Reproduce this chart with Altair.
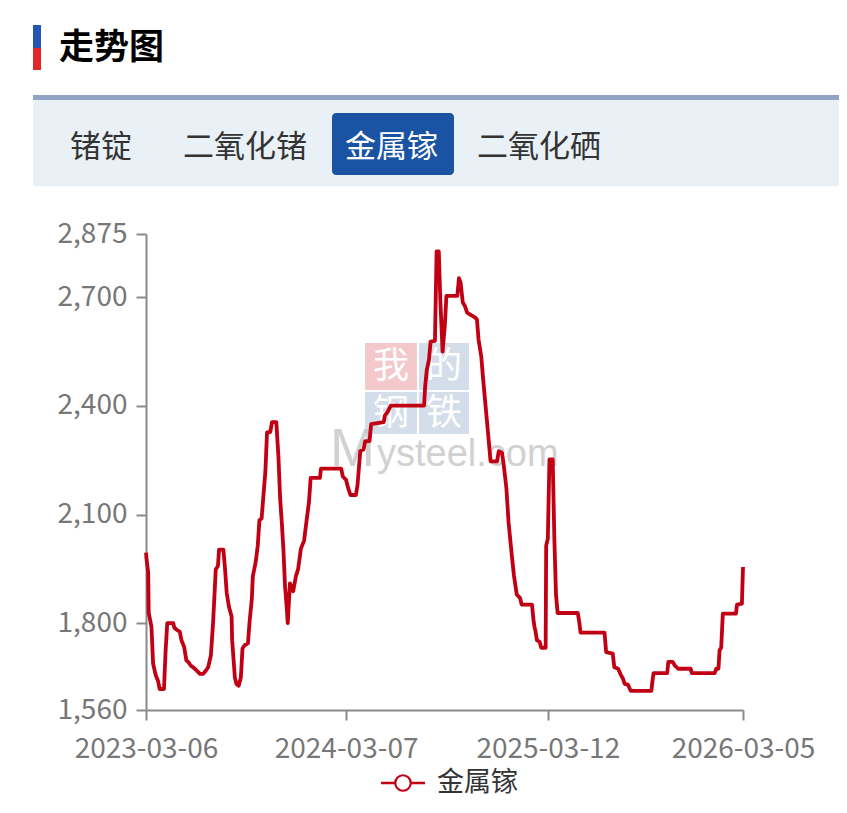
import altair as alt
import pandas as pd

# ---------------- data ----------------
dates = [
    "2023-03-06", "2023-03-07", "2023-03-10", "2023-03-11", "2023-03-16", "2023-03-19",
    "2023-03-24", "2023-03-28", "2023-03-31", "2023-04-08", "2023-04-11", "2023-04-14",
    "2023-04-25", "2023-04-27", "2023-05-02", "2023-05-07", "2023-05-10", "2023-05-15",
    "2023-05-19", "2023-05-23", "2023-05-27", "2023-06-02", "2023-06-07", "2023-06-13",
    "2023-06-19", "2023-06-24", "2023-06-28", "2023-07-03", "2023-07-07", "2023-07-12",
    "2023-07-16", "2023-07-18", "2023-07-26", "2023-07-29", "2023-08-01", "2023-08-05",
    "2023-08-10", "2023-08-11", "2023-08-16", "2023-08-19", "2023-08-23", "2023-08-27",
    "2023-08-30", "2023-09-03", "2023-09-09", "2023-09-12", "2023-09-16", "2023-09-18",
    "2023-09-23", "2023-09-27", "2023-09-30", "2023-10-04", "2023-10-07", "2023-10-11",
    "2023-10-14", "2023-10-20", "2023-10-23", "2023-10-31", "2023-11-04", "2023-11-07",
    "2023-11-10", "2023-11-13", "2023-11-16", "2023-11-19", "2023-11-21", "2023-11-25",
    "2023-12-01", "2023-12-06", "2023-12-10", "2023-12-15", "2023-12-21", "2023-12-26",
    "2023-12-30", "2024-01-02", "2024-01-19", "2024-01-21", "2024-02-27", "2024-03-01",
    "2024-03-07", "2024-03-10", "2024-03-15", "2024-03-25", "2024-03-28", "2024-04-02",
    "2024-04-08", "2024-04-11", "2024-04-19", "2024-04-22", "2024-05-15", "2024-05-17",
    "2024-05-22", "2024-05-28", "2024-07-28", "2024-07-30", "2024-08-02", "2024-08-06",
    "2024-08-09", "2024-08-17", "2024-08-20", "2024-08-24", "2024-08-27", "2024-08-31",
    "2024-09-04", "2024-09-07", "2024-09-27", "2024-09-30", "2024-10-03", "2024-10-07",
    "2024-10-11", "2024-10-15", "2024-10-20", "2024-10-30", "2024-11-02", "2024-11-05",
    "2024-11-10", "2024-11-13", "2024-11-18", "2024-11-22", "2024-11-27", "2024-12-09",
    "2024-12-12", "2024-12-18", "2024-12-21", "2024-12-26", "2024-12-30", "2025-01-05",
    "2025-01-09", "2025-01-14", "2025-01-20", "2025-01-23", "2025-02-11", "2025-02-14",
    "2025-02-16", "2025-02-17", "2025-02-20", "2025-02-25", "2025-02-28", "2025-03-08",
    "2025-03-09", "2025-03-12", "2025-03-15", "2025-03-21", "2025-03-24", "2025-03-27",
    "2025-03-30", "2025-05-06", "2025-05-09", "2025-05-11", "2025-06-24", "2025-06-27",
    "2025-07-09", "2025-07-12", "2025-07-19", "2025-07-23", "2025-07-28", "2025-07-31",
    "2025-08-06", "2025-08-11", "2025-09-18", "2025-09-20", "2025-09-22", "2025-10-17",
    "2025-10-19", "2025-10-27", "2025-10-31", "2025-11-06", "2025-11-29", "2025-12-01",
    "2026-01-12", "2026-01-15", "2026-01-19", "2026-01-21", "2026-01-24", "2026-01-27",
    "2026-02-20", "2026-02-22", "2026-03-03", "2026-03-05",
]
prices = [
    1995, 1977, 1940, 1828, 1790, 1688,
    1655, 1641, 1618, 1618, 1725, 1800,
    1800, 1787, 1781, 1776, 1753, 1734,
    1697, 1692, 1683, 1676, 1669, 1660,
    1660, 1669, 1678, 1711, 1800, 1949,
    1958, 2003, 2003, 1949, 1884, 1846,
    1818, 1753, 1650, 1632, 1627, 1650,
    1730, 1739, 1744, 1804, 1865, 1930,
    1967, 2014, 2084, 2089, 2145, 2219,
    2327, 2328, 2355, 2355, 2257, 2145,
    2080, 2005, 1902, 1846, 1800, 1910,
    1888, 1930, 1949, 2005, 2028, 2089,
    2135, 2201, 2201, 2227, 2227, 2205,
    2196, 2177, 2154, 2154, 2182, 2275,
    2280, 2303, 2303, 2350, 2355, 2373,
    2383, 2401, 2401, 2453, 2499, 2527,
    2578, 2580, 2827, 2827, 2686, 2550,
    2620, 2704, 2704, 2753, 2741, 2686,
    2676, 2658, 2653, 2644, 2639, 2583,
    2536, 2480, 2397, 2331, 2247, 2247,
    2275, 2271, 2238, 2173, 2079, 1986,
    1930, 1879, 1870, 1851, 1851, 1805,
    1786, 1781, 1753, 1748, 1732, 1732,
    2014, 2033, 2252, 2252, 2033, 1879,
    1828, 1828, 1800, 1774, 1774, 1720,
    1716, 1678, 1674, 1660, 1646, 1632,
    1630, 1613, 1613, 1641, 1662, 1662,
    1693, 1693, 1683, 1674, 1674, 1662,
    1662, 1674, 1674, 1725, 1732, 1826,
    1826, 1851, 1854, 1955,
]
series_name = "金属镓"
page_title = "走势图"
tabs = ["锗锭", "二氧化锗", "金属镓", "二氧化硒"]
selected_tab = "金属镓"
y_ticks = [1560, 1800, 2100, 2400, 2700, 2875]
x_tick_dates = [(2023, 3, 6), (2024, 3, 7), (2025, 3, 12), (2026, 3, 5)]

# ---------------- styling ----------------
CJK = "Noto Sans CJK SC"
LINE_RED = "#c10013"
AXIS_GRAY = "#8a8a8a"
LABEL_GRAY = "#777777"
W, H = 597, 476

df = pd.DataFrame({"date": dates, "price": prices, "series": series_name})

x_dt = [alt.DateTime(year=y, month=m, date=d, utc=True) for (y, m, d) in x_tick_dates]

line = alt.Chart(df).mark_line(color=LINE_RED, strokeWidth=3.8, strokeJoin="round").encode(
    x=alt.X(
        "date:T",
        scale=alt.Scale(type="utc", domain=[x_dt[0], x_dt[-1]], nice=False),
        axis=alt.Axis(
            values=x_dt, format="%Y-%m-%d", title=None, grid=False,
            labelPadding=15, labelFlush=False, labelOverlap=False, labelFontSize=28,
        ),
    ),
    y=alt.Y(
        "price:Q",
        scale=alt.Scale(domain=[1560, 2875], nice=False, zero=False),
        axis=alt.Axis(values=y_ticks, format=",d", title=None, grid=False,
                      labelPadding=9, labelFontSize=28),
    ),
)


def one_row(**kw):
    return pd.DataFrame({k: [v] for k, v in kw.items()})


def deco_rect(x, x2, y, y2, color, radius=0, opacity=1.0):
    return alt.Chart(one_row(k=0)).mark_rect(
        color=color, cornerRadius=radius, opacity=opacity
    ).encode(x=alt.value(x), x2=alt.value(x2), y=alt.value(y), y2=alt.value(y2))


def deco_text(s, x, y, size, color, weight="normal", align="left", font=CJK, opacity=1.0):
    return alt.Chart(one_row(t=s)).mark_text(
        align=align, baseline="middle", fontSize=size, color=color,
        fontWeight=weight, font=font, opacity=opacity,
    ).encode(x=alt.value(x), y=alt.value(y), text="t:N")


# header (coordinates relative to plot origin)
layers = [
    deco_rect(-113, 693, -139, -134, "#8fa3c4"),
    deco_rect(-113, 693, -134, -48, "#e9f0f6"),
    deco_rect(186, 308, -121, -59, "#1b53a4", radius=4),
    deco_rect(-113, -105, -209, -186, "#2356b4"),
    deco_rect(-113, -105, -186, -164, "#e0262b"),
    deco_text(page_title, -87, -186, 35, "#000000", weight="bold"),
]
tab_left = [-76, 37, 199, 331]
for name, lx in zip(tabs, tab_left):
    col = "#ffffff" if name == selected_tab else "#333333"
    layers.append(deco_text(name, lx, -86, 31, col))

# watermark
layers += [
    deco_rect(219, 271, 109, 156, "#f3c3c7", opacity=0.9),
    deco_rect(273, 323, 109, 156, "#cfd9e8", opacity=0.9),
    deco_rect(219, 271, 158, 200, "#cfd9e8", opacity=0.9),
    deco_rect(273, 323, 158, 200, "#cfd9e8", opacity=0.9),
    deco_text("我", 245, 133, 36, "#ffffff", align="center"),
    deco_text("的", 298, 133, 36, "#ffffff", align="center"),
    deco_text("钢", 245, 180, 36, "#ffffff", align="center"),
    deco_text("铁", 298, 180, 36, "#ffffff", align="center"),
    deco_text("M", 184, 216, 54, "#c9c9c9", font="Liberation Sans", opacity=0.85),
    deco_text("ysteel.com", 231, 221, 38, "#c9c9c9", font="Liberation Sans", opacity=0.85),
]

layers.append(line)

# legend
LEG_Y = 549
layers += [
    alt.Chart(one_row(k=0)).mark_rule(color=LINE_RED, strokeWidth=2.5).encode(
        x=alt.value(235), x2=alt.value(279), y=alt.value(LEG_Y)
    ),
    alt.Chart(one_row(k=0)).mark_point(
        shape="circle", filled=True, fill="#ffffff", stroke=LINE_RED, strokeWidth=2.2,
        size=240, opacity=1,
    ).encode(x=alt.value(257), y=alt.value(LEG_Y)),
    deco_text(series_name, 291, LEG_Y, 27, "#333333"),
]

chart = (
    alt.layer(*layers)
    .properties(
        width=W, height=H,
        autosize=alt.AutoSizeParams(type="none"),
        padding={"left": 138, "top": 226, "right": 96, "bottom": 91},
        background="#ffffff",
    )
    .configure_view(stroke=None)
    .configure_axis(
        labelFont=CJK, labelColor=LABEL_GRAY,
        domainColor=AXIS_GRAY, domainWidth=2, tickColor=AXIS_GRAY, tickWidth=2,
        tickSize=10,
    )
)

chart.save("out.html", embed_options={"renderer": "svg", "actions": False})
